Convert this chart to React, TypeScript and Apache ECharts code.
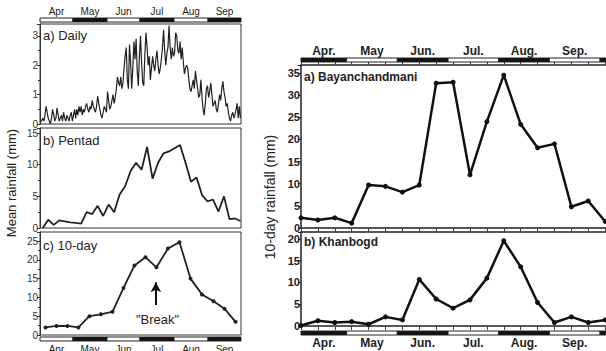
import React, { useEffect, useRef } from 'react';
import * as echarts from 'echarts';

// ---------- data ----------
const dailyApr = [0.1,0.1,0.2,0.1,0.3,0.6,0.4,0.2,0.1,0.0, 0.2,0.5,0.3,0.1,0.2,0.55,0.3,0.1,0.2,0.3, 0.1,0.4,0.2,0.1,0.3,0.2,0.1,0.3,0.4,0.1];
const dailyMay = [0.3,0.5,0.2,0.5,0.3,0.6,0.4,0.6,0.3,0.5, 0.4,0.6,0.7,0.5,0.4,0.6,0.5,0.8,0.6,0.5, 0.4,0.6,0.95,0.7,0.5,0.3,0.2,0.4,0.6,0.5,0.4];
const dailyJun = [1.1,0.8,0.5,0.6,0.8,1.0,0.7,0.9,1.2,1.6, 1.4,1.3,1.6,1.2,1.4,1.9,2.3,2.6,1.5,1.2, 2.7,2.1,1.2,1.9,2.8,2.2,2.9,1.8,1.3,2.3];
const dailyJul = [3.0,2.1,1.4,1.3,2.4,3.1,2.6,2.0,2.3,1.5, 1.9,2.3,2.0,1.8,2.2,2.5,2.0,1.7,1.9,2.2, 2.6,3.2,2.5,2.0,2.4,2.6,3.35,2.6,2.2,2.6,2.3];
const dailyAug = [2.4,3.1,3.0,2.5,2.4,2.8,2.2,2.6,2.1,1.7, 1.9,2.0,1.9,1.5,1.2,1.1,1.3,1.5,1.2,1.8, 1.5,1.2,0.9,1.0,1.5,0.9,0.5,0.3,0.7,1.2,1.3];
const dailySep = [0.9,1.1,1.4,1.0,0.6,0.7,0.8,0.5,0.4,0.7, 1.0,0.8,1.2,1.45,1.1,0.9,0.6,0.7,0.4,0.2, 0.1,0.3,0.4,0.2,0.3,0.5,0.7,0.2,0.6,0.2];
const daily = [...dailyApr, ...dailyMay, ...dailyJun, ...dailyJul, ...dailyAug, ...dailySep];

const pentad = [0.0,1.3,0.5,1.2,1.05,0.9,0.8,0.7,2.5,2.2,3.5,1.9,3.7,2.5,5.3,6.6,9.0,10.3,9.2,12.8,7.8,10.3,11.8,12.1,12.6,13.1,10.3,7.3,8.0,5.2,4.2,4.5,2.6,5.0,1.4,1.5,1.1];

const tenDay = [2.0,2.4,2.4,2.0,5.0,5.5,6.2,12.5,18.5,20.7,18.0,23.0,24.7,15.0,10.8,9.0,7.0,3.5];
const tenDayMid = [5,15,25,35,45,55.5,66,76,86,96,106,116.5,127,137,147.5,158,168,178];

const leftMonths = ['Apr','May','Jun','Jul','Aug','Sep'];
const leftMonthEdges = [0,30,61,91,122,153,183];

const rightMonths = ['Apr.','May','Jun.','Jul.','Aug.','Sep.',''];
const rightMonthEdges = [-0.3,2.7,5.7,8.7,11.7,14.7,17.7,20.7];

const bayanchandmani = [2.3,1.8,2.3,1.1,9.7,9.4,8.1,9.7,32.7,32.9,12.0,24.0,34.5,23.4,18.1,19.0,4.8,6.1,1.5];
const khanbogd = [0.1,1.2,0.8,1.0,0.4,2.1,1.4,10.7,6.2,4.1,6.0,11.0,19.6,13.6,5.4,0.8,2.1,0.8,1.4];

const breakArrow = { day: 105.5, from: 8.0, to: 14.0, textAt: 4.0 };

// ---------- helpers ----------
const F = 'Liberation Sans, Arial, Helvetica, sans-serif';
const XL_MAX = 183;
const XR_MAX = 18.05;

function monthBar(xIdx: number, yIdx: number, edges: number[], names: string[], firstBlack: boolean,
  side: 'top' | 'bottom', xMin: number, xMax: number, font: string, gap: number) {
  return {
    type: 'custom', xAxisIndex: xIdx, yAxisIndex: yIdx, silent: true, clip: false,
    data: names.map((_, i) => [edges[i], edges[i + 1]]),
    renderItem: (params: any, api: any) => {
      const i = params.dataIndex;
      const s = Math.max(edges[i], xMin), e = Math.min(edges[i + 1], xMax);
      if (e <= s) return null;
      const a = api.coord([s, 1]);
      const b = api.coord([e, 0]);
      const black = (i % 2 === 0) === firstBlack;
      const children: any[] = [{
        type: 'rect',
        shape: { x: a[0], y: a[1], width: b[0] - a[0], height: b[1] - a[1] },
        style: { fill: black ? '#111' : '#fff', stroke: '#222', lineWidth: 1 },
      }];
      if (names[i]) {
        children.push({
          type: 'text', x: (a[0] + b[0]) / 2, y: side === 'top' ? a[1] - gap : b[1] + gap,
          style: { text: names[i], fill: '#222', font, align: 'center', verticalAlign: 'middle', textAlign: 'center', textVerticalAlign: 'middle' },
        });
      }
      return { type: 'group', children };
    },
  };
}

const fmt = (step: number) => (v: number) => (Math.abs(v / step - Math.round(v / step)) < 1e-6 ? String(Math.round(v)) : '');

const leftY = (gridIndex: number, max: number, interval: number) => ({
  type: 'value', gridIndex, min: 0, max, interval,
  axisLine: { show: true, onZero: false, lineStyle: { color: '#333' } },
  axisTick: { show: true, inside: false, length: 3, lineStyle: { color: '#333' } },
  minorTick: { show: true, splitNumber: 2, length: 2, lineStyle: { color: '#333' } },
  axisLabel: { margin: 2, fontSize: 10, fontFamily: F, color: '#333', formatter: fmt(interval) },
  splitLine: { show: false },
});
const leftY2 = (gridIndex: number, max: number, interval: number) => ({
  type: 'value', gridIndex, position: 'right', min: 0, max, interval,
  axisLine: { show: false },
  axisTick: { show: true, inside: true, length: 3, lineStyle: { color: '#333' } },
  axisLabel: { show: false }, splitLine: { show: false },
});
const hidden = (gridIndex: number, min: number, max: number) => ({ type: 'value', gridIndex, min, max, show: false });
const rx = (gridIndex: number, position: string, tickLen: number) => ({
  type: 'value', gridIndex, position, min: 0, max: XR_MAX, interval: 1,
  axisLine: { show: true, onZero: false, lineStyle: { color: '#222', width: 1.5 } },
  axisTick: { show: true, inside: false, length: tickLen, lineStyle: { color: '#444' } },
  axisLabel: { show: false }, splitLine: { show: false },
});
const ry = (gridIndex: number, max: number) => ({
  type: 'value', gridIndex, min: 0, max, interval: 5,
  axisLine: { show: true, onZero: false, lineStyle: { color: '#222', width: 1.5 } },
  axisTick: { show: true, length: 3, lineStyle: { color: '#222' } },
  axisLabel: { margin: 1, fontSize: 11, fontWeight: 'bold', fontFamily: F, color: '#222', formatter: fmt(5) },
  splitLine: { show: false },
});

const txt = (text: string, x: number, y: number, font: string, rotation = 0, align = 'left') => ({
  type: 'text', x, y, rotation, silent: true,
  style: { text, font, fill: '#222', align, verticalAlign: 'middle', textAlign: align, textVerticalAlign: 'middle' },
});

export default function App() {
  const ref = useRef<HTMLDivElement>(null);
  useEffect(() => {
    if (!ref.current) return;
    const chart = echarts.init(ref.current, undefined, { renderer: 'svg' });
    const border = { show: true, borderColor: '#333', borderWidth: 1, backgroundColor: 'transparent' };
    chart.setOption({
      animation: false,
      backgroundColor: '#fff',
      grid: [
        { left: 40, top: 18, width: 201, height: 4 },
        { left: 40, top: 24, width: 201, height: 100, ...border },
        { left: 40, top: 128, width: 201, height: 100, ...border },
        { left: 40, top: 232, width: 201, height: 103, ...border },
        { left: 40, top: 337, width: 201, height: 4 },
        { left: 301, top: 58, width: 305, height: 4 },
        { left: 301, top: 65, width: 305, height: 163 },
        { left: 301, top: 232, width: 305, height: 94 },
        { left: 301, top: 331, width: 305, height: 4 },
      ],
      xAxis: [
        hidden(0, 0, XL_MAX),
        hidden(1, 0, XL_MAX),
        hidden(2, 0, XL_MAX),
        hidden(3, 0, XL_MAX),
        hidden(4, 0, XL_MAX),
        hidden(5, 0, XR_MAX),
        rx(6, 'top', 3),
        rx(6, 'bottom', 4),
        rx(7, 'top', 0),
        rx(7, 'bottom', 4),
        hidden(8, 0, XR_MAX),
      ],
      yAxis: [
        hidden(0, 0, 1),
        leftY(1, 3.4, 1), leftY2(1, 3.4, 1),
        leftY(2, 15.8, 5), leftY2(2, 15.8, 5),
        leftY(3, 27.4, 5), leftY2(3, 27.4, 5),
        hidden(4, 0, 1),
        hidden(5, 0, 1),
        ry(6, 36.8),
        ry(7, 21.6),
        hidden(8, 0, 1),
      ],
      graphic: [
        txt('a) Daily', 43, 35, `13px ${F}`),
        txt('b) Pentad', 43, 140, `13px ${F}`),
        txt('c) 10-day', 43, 245, `13px ${F}`),
        txt('Mean rainfall (mm)', 11, 183, `13px ${F}`, Math.PI / 2, 'center'),
        txt('a) Bayanchandmani', 304, 77, `bold 12px ${F}`),
        txt('b) Khanbogd', 304, 242, `bold 12px ${F}`),
        txt('10-day rainfall (mm)', 270, 197, `14px ${F}`, Math.PI / 2, 'center'),
      ],
      series: [
        monthBar(0, 0, leftMonthEdges, leftMonths, false, 'top', 0, XL_MAX, `10px ${F}`, 7),
        monthBar(4, 7, leftMonthEdges, leftMonths, false, 'bottom', 0, XL_MAX, `10px ${F}`, 8),
        monthBar(5, 8, rightMonthEdges, rightMonths, true, 'top', 0, XR_MAX, `bold 12px ${F}`, 7),
        monthBar(10, 11, rightMonthEdges, rightMonths, true, 'bottom', 0, XR_MAX, `bold 12px ${F}`, 8),
        {
          type: 'line', xAxisIndex: 1, yAxisIndex: 1, symbol: 'none',
          data: daily.map((v, i) => [i + 0.5, v]),
          lineStyle: { color: '#222', width: 1.2 },
        },
        {
          type: 'line', xAxisIndex: 2, yAxisIndex: 3, symbol: 'none',
          data: pentad.map((v, i) => [i * 5 + 2.5, v]),
          lineStyle: { color: '#222', width: 1.8 },
        },
        {
          type: 'line', xAxisIndex: 3, yAxisIndex: 5, symbol: 'circle', symbolSize: 4,
          data: tenDay.map((v, i) => [tenDayMid[i], v]),
          lineStyle: { color: '#222', width: 1.8 }, itemStyle: { color: '#222' },
          markLine: {
            silent: true, animation: false,
            lineStyle: { color: '#111', width: 2, type: 'solid' },
            label: { show: false },
            data: [[
              { coord: [breakArrow.day, breakArrow.from], symbol: 'none' },
              { coord: [breakArrow.day, breakArrow.to], symbol: 'arrow', symbolSize: [8, 10] },
            ]],
          },
          markPoint: {
            silent: true, symbol: 'circle', symbolSize: 0,
            label: { show: true, position: 'inside', formatter: '"Break"', fontSize: 13, fontFamily: F, color: '#222' },
            data: [{ coord: [breakArrow.day + 1.5, breakArrow.textAt] }],
          },
        },
        {
          type: 'line', xAxisIndex: 6, yAxisIndex: 9, symbol: 'circle', symbolSize: 5,
          data: bayanchandmani.map((v, i) => [i, v]),
          lineStyle: { color: '#111', width: 2.5 }, itemStyle: { color: '#111' },
        },
        {
          type: 'line', xAxisIndex: 8, yAxisIndex: 10, symbol: 'circle', symbolSize: 5,
          data: khanbogd.map((v, i) => [i, v]),
          lineStyle: { color: '#111', width: 2.5 }, itemStyle: { color: '#111' },
        },
      ],
    });
    return () => chart.dispose();
  }, []);
  return <div ref={ref} style={{ position: 'absolute', left: 0, top: 0, width: 606, height: 351 }} />;
}
